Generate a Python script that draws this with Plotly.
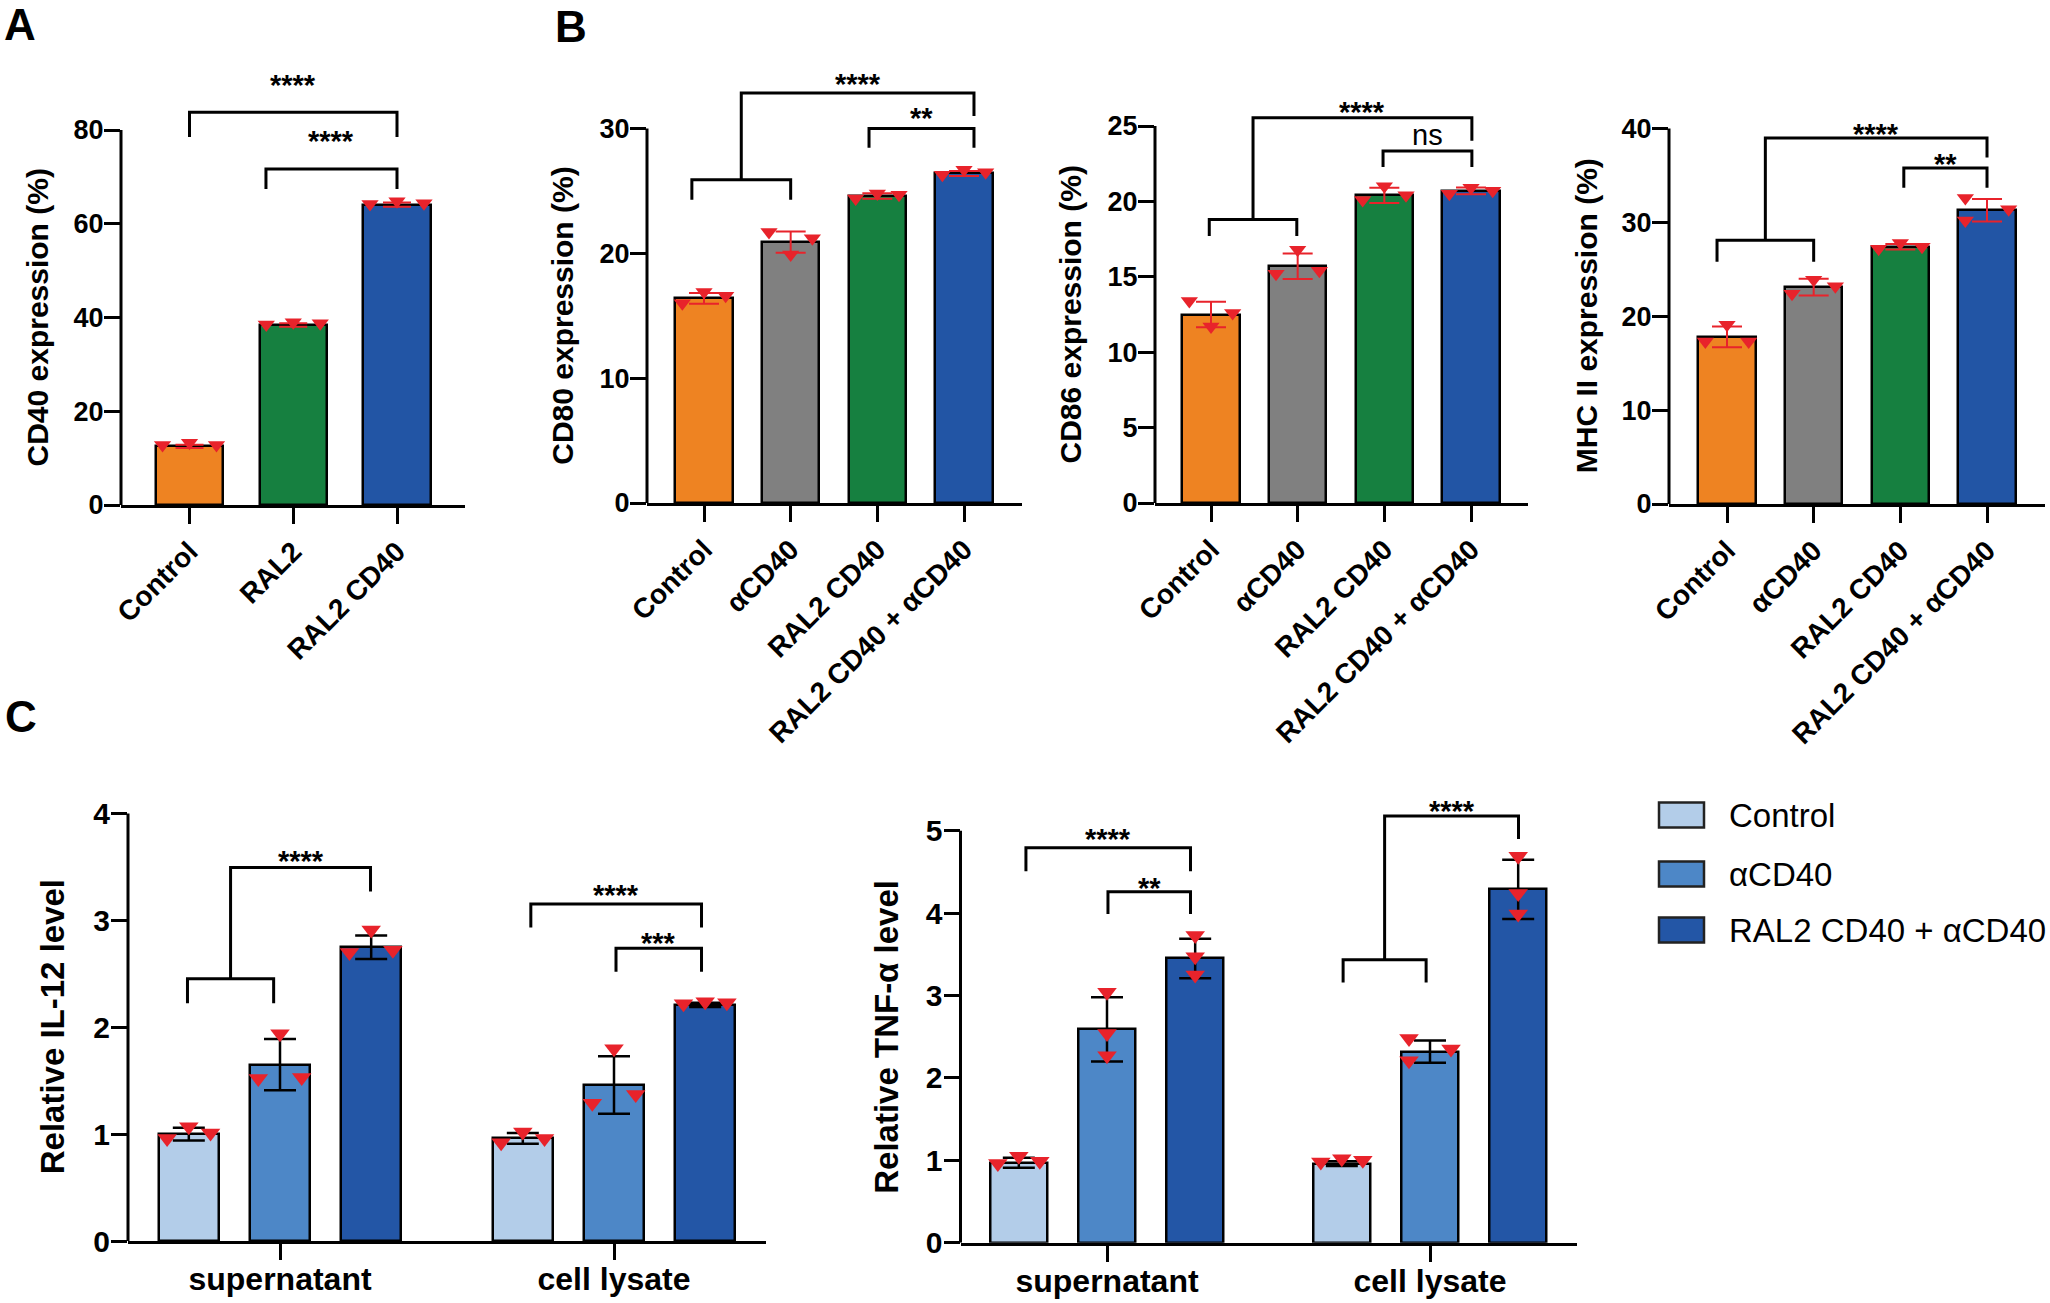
import plotly.graph_objects as go

W, H = 2050, 1303
FONT = "Liberation Sans, Arial, Helvetica, sans-serif"
RED = "#E8232B"

# ------------------------------------------------------------------ data
A_categories = ["Control", "RAL2", "RAL2 CD40"]
A_mean = [12.5, 38.4, 64.1]
A_sd = [0.35, 0.35, 0.45]
A_points = [[12.8, 13.3, 12.8], [38.5, 39.0, 38.8], [64.2, 64.8, 64.4]]

B_categories = ["Control", "αCD40", "RAL2 CD40", "RAL2 CD40 + αCD40"]
CD80_mean = [16.4, 20.9, 24.6, 26.4]
CD80_sd = [0.43, 0.85, 0.22, 0.2]
CD80_points = [[16.0, 16.9, 16.6], [21.7, 19.9, 21.2], [24.4, 24.8, 24.7], [26.3, 26.7, 26.5]]

CD86_mean = [12.5, 15.7, 20.4, 20.7]
CD86_sd = [0.85, 0.85, 0.5, 0.23]
CD86_points = [[13.4, 11.7, 12.6], [15.2, 16.8, 15.4], [20.1, 21.0, 20.4], [20.5, 20.9, 20.7]]

MHC_mean = [17.8, 23.1, 27.4, 31.3]
MHC_sd = [1.1, 0.9, 0.3, 1.2]
MHC_points = [[17.3, 19.1, 17.3], [22.4, 23.9, 23.2], [27.2, 27.8, 27.4], [32.6, 30.2, 31.4]]

C_groups = ["supernatant", "cell lysate"]
C_series = ["Control", "αCD40", "RAL2 CD40 + αCD40"]
# series x group
IL12_mean = [[1.0, 0.96], [1.65, 1.46], [2.75, 2.21]]
IL12_sd = [[0.06, 0.05], [0.24, 0.27], [0.11, 0.02]]
IL12_points = [
    [[0.96, 1.07, 1.01], [0.92, 1.02, 0.96]],
    [[1.52, 1.94, 1.53], [1.29, 1.80, 1.37]],
    [[2.70, 2.91, 2.72], [2.22, 2.24, 2.23]],
]
TNF_mean = [[0.97, 0.96], [2.59, 2.32], [3.45, 4.29]]
TNF_sd = [[0.06, 0.03], [0.39, 0.135], [0.24, 0.36]]
TNF_points = [
    [[0.96, 1.05, 0.99], [0.98, 1.02, 1.00]],
    [[3.04, 2.54, 2.27], [2.48, 2.21, 2.35]],
    [[3.73, 3.47, 3.25], [4.69, 4.24, 3.99]],
]

# ------------------------------------------------------------------ styles
CAT_COLORS_A = ["#EE8322", "#168040", "#2255A5"]
CAT_COLORS_B = ["#EE8322", "#808080", "#168040", "#2255A5"]
C_COLORS = ["#B3CDE9", "#4D87C7", "#2356A6"]

# point jitter patterns (-1 left, 0 centre, +1 right)
J3 = [-1, 0, 1]
A_jitter = [J3, J3, J3]
CD80_jitter = [J3] * 4
CD86_jitter = [J3] * 4
MHC_jitter = [J3, J3, J3, [-1, -1, 1]]
IL12_jitter = [[J3, J3], [J3, J3], [J3, J3]]
TNF_jitter = [[J3, J3], [[0, 0, 0], [-1, -1, 1]], [[0, 0, 0], [0, 0, 0]]]

# panel geometry in pixels (ttl = x centre of the y-axis title)
panels = {
    "A": dict(n=1, left=121, right=465, c0=189.5, sp=103.75, y0=505, tpx=130, ttop=80, dt=20, top=60, ttl=37),
    "B1": dict(n=2, left=647, right=1022, c0=704, sp=86.67, y0=503, tpx=128.5, ttop=30, dt=10, top=60, ttl=563),
    "B2": dict(n=3, left=1155, right=1528, c0=1211, sp=86.67, y0=503, tpx=126, ttop=25, dt=5, top=60, ttl=1070),
    "B3": dict(n=4, left=1669, right=2045, c0=1727, sp=86.67, y0=504, tpx=128.5, ttop=40, dt=10, top=60, ttl=1586),
    "C1": dict(n=5, left=128, right=766, c0=280, sp=334, y0=1241, tpx=813.6, ttop=4, dt=1, top=790, ttl=52),
    "C2": dict(n=6, left=960.5, right=1577, c0=1107, sp=323, y0=1242.7, tpx=830.8, ttop=5, dt=1, top=790, ttl=887),
}

# significance brackets: simple (x0, x1, y, leg, label, label_y)
# group: (xa, xb, ylow, leglow, xt, yhigh, leghigh, label, label_y)
brackets = {
    "A": dict(simple=[(0, 2.0, 83.8, 78.5, "****", 91.1), (0.737, 2.0, 71.7, 67.4, "****", 79.1)], group=[]),
    "B1": dict(simple=[(1.904, 3.115, 30.0, 28.45, "**", 31.4)],
               group=[(-0.14, 1.0, 25.9, 24.3, 3.115, 32.85, 31.0, "****", 34.1)]),
    "B2": dict(simple=[(1.985, 3.01, 23.34, 22.28, "ns", 24.2)],
               group=[(-0.02, 0.99, 18.8, 17.7, 3.01, 25.54, 24.03, "****", 26.35)]),
    "B3": dict(simple=[(2.04, 3.0, 35.8, 33.7, "**", 36.9)],
               group=[(-0.115, 1.0, 28.1, 25.8, 3.0, 39.0, 36.9, "****", 40.1)]),
    "C1": dict(simple=[(0.751, 1.262, 3.153, 2.934, "****", 3.30), (1.006, 1.262, 2.74, 2.52, "***", 2.85)],
               group=[(-0.277, -0.019, 2.454, 2.225, 0.271, 3.496, 3.27, "****", 3.62)]),
    "C2": dict(simple=[(-0.251, 0.2585, 4.795, 4.51, "****", 4.98), (0.003, 0.2585, 4.26, 3.99, "**", 4.39)],
               group=[(0.731, 0.988, 3.435, 3.16, 1.274, 5.18, 4.90, "****", 5.32)]),
}

fig = go.Figure()
shapes = []
annotations = []


def ax_names(n):
    s = "" if n == 1 else str(n)
    return "x" + s, "y" + s, "xaxis" + s, "yaxis" + s


def setup_axes(key, tickvals, ticktext, tickangle, xfont, yfont, title, title_size, xstandoff):
    p = panels[key]
    xr, yr, xk, yk = ax_names(p["n"])
    xrange = [(p["left"] - p["c0"]) / p["sp"], (p["right"] - p["c0"]) / p["sp"]]
    ytop = p["ttop"] * (p["y0"] - p["top"]) / (p["y0"] - p["tpx"])
    yticks = []
    v = 0
    while v <= p["ttop"] + 1e-9:
        yticks.append(v)
        v += p["dt"]
    fig.layout[xk] = dict(
        domain=[p["left"] / W, p["right"] / W], range=xrange, anchor=yr, automargin=False,
        showline=True, linecolor="black", linewidth=3, ticks="outside", ticklen=16,
        tickwidth=3, tickcolor="black", showgrid=False, zeroline=False,
        tickvals=tickvals, ticktext=ticktext, tickangle=tickangle, ticklabelstandoff=xstandoff,
        tickfont=dict(family=FONT, size=xfont, color="black", weight=700),
        fixedrange=True,
    )
    fig.layout[yk] = dict(
        domain=[1 - p["y0"] / H, 1 - p["top"] / H], range=[0, ytop], anchor=xr, automargin=False,
        showline=False, ticks="outside", ticklen=16, tickwidth=3, tickcolor="black",
        showgrid=False, zeroline=False, tickvals=yticks, ticklabelstandoff=-5,
        tickfont=dict(family=FONT, size=yfont, color="black", weight=700),
        fixedrange=True,
    )
    # y axis line only up to the top tick
    shapes.append(dict(type="line", xref=xr + " domain", yref=yr, x0=0, x1=0, y0=0,
                       y1=p["ttop"], line=dict(color="black", width=3)))
    # y-axis title centred on the drawn axis
    annotations.append(dict(x=p["ttl"] / W, xref="paper", y=p["ttop"] / 2, yref=yr, text=title,
                            textangle=-90, showarrow=False, xanchor="center", yanchor="middle",
                            font=dict(family=FONT, size=title_size, color="black", weight=700)))


def add_brackets(key, star_size):
    p = panels[key]
    xr, yr, _, _ = ax_names(p["n"])

    def label(x, y, text):
        shift = 0.09 * star_size if text == "ns" else -0.23 * star_size
        annotations.append(dict(x=x, y=y, xref=xr, yref=yr, text=text, showarrow=False,
                                yshift=shift, font=dict(family=FONT, size=star_size, color="black",
                                                        weight=400 if text == "ns" else 700)))
    for (x0, x1, y, leg, txt, ty) in brackets[key]["simple"]:
        shapes.append(dict(type="path", xref=xr, yref=yr,
                           path=f"M {x0},{leg} L {x0},{y} L {x1},{y} L {x1},{leg}",
                           line=dict(color="black", width=3)))
        label((x0 + x1) / 2, ty, txt)
    for (xa, xb, yl, ll, xt, yh, lh, txt, ty) in brackets[key]["group"]:
        mid = (xa + xb) / 2
        shapes.append(dict(type="path", xref=xr, yref=yr,
                           path=(f"M {xa},{ll} L {xa},{yl} L {xb},{yl} L {xb},{ll} "
                                 f"M {mid},{yl} L {mid},{yh} L {xt},{yh} L {xt},{lh}"),
                           line=dict(color="black", width=3)))
        label((mid + xt) / 2, ty, txt)


def cat_panel(key, cats, means, sds, points, colors, jitter, spread, barw, msize, errw, title):
    p = panels[key]
    xr, yr, _, _ = ax_names(p["n"])
    xs = list(range(len(cats)))
    fig.add_trace(go.Bar(
        x=xs, y=means, width=barw, xaxis=xr, yaxis=yr, showlegend=False,
        marker=dict(color=colors, line=dict(color="black", width=2.5)),
        error_y=dict(type="data", array=sds, color=RED, thickness=2, width=errw),
        hovertemplate="%{y}<extra></extra>",
    ))
    px, py = [], []
    for i, pts in enumerate(points):
        for j, v in enumerate(pts):
            px.append(i + jitter[i][j] * spread)
            py.append(v)
    fig.add_trace(go.Scatter(x=px, y=py, mode="markers", xaxis=xr, yaxis=yr, showlegend=False,
                             marker=dict(symbol="triangle-down", size=msize, color=RED),
                             cliponaxis=False, hoverinfo="skip"))
    setup_axes(key, xs, cats, -45, 28, 27, title, 30, 0)
    add_brackets(key, 29)


def group_panel(key, means, sds, points, jitter, title):
    p = panels[key]
    xr, yr, _, _ = ax_names(p["n"])
    offs = [-0.273, 0.0, 0.273]
    for s, name in enumerate(C_series):
        xs = [g + offs[s] for g in range(len(C_groups))]
        fig.add_trace(go.Bar(
            x=xs, y=means[s], width=0.178, xaxis=xr, yaxis=yr, name=name, showlegend=False,
            marker=dict(color=C_COLORS[s], line=dict(color="black", width=2.5)),
            error_y=dict(type="data", array=sds[s], color="black", thickness=2.5, width=16),
        ))
    for s in range(len(C_series)):
        px, py = [], []
        for g in range(len(C_groups)):
            for j, v in enumerate(points[s][g]):
                px.append(g + offs[s] + jitter[s][g][j] * 0.065)
                py.append(v)
        fig.add_trace(go.Scatter(x=px, y=py, mode="markers", xaxis=xr, yaxis=yr, showlegend=False,
                                 marker=dict(symbol="triangle-down", size=17, color=RED),
                                 cliponaxis=False, hoverinfo="skip"))
    setup_axes(key, [0, 1], C_groups, 0, 32, 30, title, 33, -8)
    add_brackets(key, 29)


cat_panel("A", A_categories, A_mean, A_sd, A_points, CAT_COLORS_A, A_jitter, 0.26, 0.65, 15, 14,
          "CD40 expression (%)")
cat_panel("B1", B_categories, CD80_mean, CD80_sd, CD80_points, CAT_COLORS_B, CD80_jitter, 0.25, 0.66, 15, 15,
          "CD80 expression (%)")
cat_panel("B2", B_categories, CD86_mean, CD86_sd, CD86_points, CAT_COLORS_B, CD86_jitter, 0.25, 0.66, 15, 15,
          "CD86 expression (%)")
cat_panel("B3", B_categories, MHC_mean, MHC_sd, MHC_points, CAT_COLORS_B, MHC_jitter, 0.25, 0.66, 15, 15,
          "MHC II expression (%)")
group_panel("C1", IL12_mean, IL12_sd, IL12_points, IL12_jitter, "Relative IL-12 level")
group_panel("C2", TNF_mean, TNF_sd, TNF_points, TNF_jitter, "Relative TNF-α level")

# panel letters
for letter, (lx, ly) in {"A": (20, 25), "B": (571, 26), "C": (21, 716)}.items():
    annotations.append(dict(x=lx / W, y=1 - ly / H, xref="paper", yref="paper", text=letter,
                            showarrow=False, xanchor="center", yanchor="middle",
                            font=dict(family=FONT, size=44, color="black", weight=700)))

# legend for panel C
legend_rows = [815, 874, 930]
for s, name in enumerate(C_series):
    cy = legend_rows[s]
    shapes.append(dict(type="rect", xref="paper", yref="paper",
                       x0=1659 / W, x1=1704 / W, y0=1 - (cy - 12.5) / H, y1=1 - (cy + 12.5) / H,
                       fillcolor=C_COLORS[s], line=dict(color="#222222", width=2.5)))
    annotations.append(dict(x=1727 / W, y=1 - cy / H, xref="paper", yref="paper", text=name,
                            showarrow=False, xanchor="left", yanchor="middle",
                            font=dict(family=FONT, size=33, color="black")))

fig.update_layout(
    template="none",
    width=W, height=H, margin=dict(l=0, r=0, t=0, b=0, autoexpand=False),
    paper_bgcolor="white", plot_bgcolor="white", showlegend=False,
    shapes=shapes, annotations=annotations, bargap=0,
    font=dict(family=FONT, color="black"),
)
fig.write_html(
    "out.html",
    config={"displayModeBar": False},
    post_script="document.body.style.margin='0';document.body.style.overflow='hidden';",
)
